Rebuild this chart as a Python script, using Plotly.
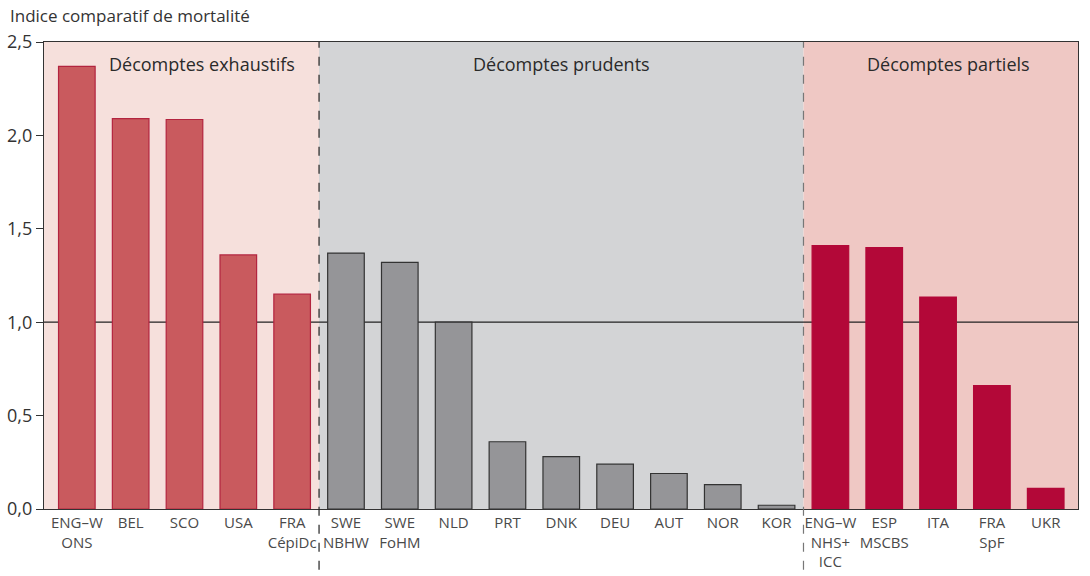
import plotly.graph_objects as go

categories = ["ENG–W<br>ONS", "BEL", "SCO", "USA", "FRA<br>CépiDc",
              "SWE<br>NBHW", "SWE<br>FoHM", "NLD", "PRT", "DNK", "DEU", "AUT", "NOR", "KOR",
              "ENG–W<br>NHS+<br>ICC", "ESP<br>MSCBS", "ITA", "FRA<br>SpF", "UKR"]
values = [2.37, 2.09, 2.085, 1.36, 1.15,
          1.37, 1.32, 1.00, 0.36, 0.28, 0.24, 0.19, 0.13, 0.02,
          1.41, 1.40, 1.135, 0.66, 0.11]
groups = ["exh"] * 5 + ["pru"] * 9 + ["par"] * 5
group_labels = ["Décomptes exhaustifs", "Décomptes prudents", "Décomptes partiels"]
y_ticks = [0, 0.5, 1.0, 1.5, 2.0, 2.5]
y_tick_labels = ["0,0", "0,5", "1,0", "1,5", "2,0", "2,5"]

fill = {"exh": "#c95a5e", "pru": "#959598", "par": "#b30838"}
edge = {"exh": "#b3243f", "pru": "#333333", "par": "#b30838"}
bg = ["#f6e0dc", "#d3d4d6", "#efc8c4"]

x = list(range(len(categories)))
fig = go.Figure()
fig.add_trace(go.Bar(
    x=x, y=values, width=0.68,
    marker=dict(color=[fill[g] for g in groups],
                line=dict(color=[edge[g] for g in groups], width=1.2)),
    hoverinfo="y", showlegend=False))

xmin, xmax = -0.61, 18.6
b1, b2 = 4.5, 13.5
shapes = [
    dict(type="rect", xref="x", yref="paper", x0=xmin, x1=b1, y0=0, y1=1,
         fillcolor=bg[0], line_width=0, layer="below"),
    dict(type="rect", xref="x", yref="paper", x0=b1, x1=b2, y0=0, y1=1,
         fillcolor=bg[1], line_width=0, layer="below"),
    dict(type="rect", xref="x", yref="paper", x0=b2, x1=xmax, y0=0, y1=1,
         fillcolor=bg[2], line_width=0, layer="below"),
    dict(type="line", xref="paper", yref="y", x0=0, x1=1, y0=1, y1=1,
         line=dict(color="#222222", width=1.2), layer="below"),
    dict(type="line", xref="x", yref="paper", x0=b1, x1=b1, y0=-0.13, y1=1,
         line=dict(color="#222222", width=1.2, dash="dash"), layer="above"),
    dict(type="line", xref="x", yref="paper", x0=b2, x1=b2, y0=-0.13, y1=1,
         line=dict(color="#777777", width=1.2, dash="dash"), layer="above"),
]

annotations = [
    dict(text="Indice comparatif de mortalité", xref="paper", yref="paper",
         x=-0.035, y=1.057, xanchor="left", yanchor="middle", showarrow=False,
         font=dict(size=17, color="#333333")),
]
for gx, gl in zip([2.33, 9.0, 16.2], group_labels):
    annotations.append(dict(text=gl, x=gx, y=2.38, xref="x", yref="y", showarrow=False,
                            xanchor="center", yanchor="middle",
                            font=dict(size=18, color="#2a2a2a")))

fig.update_layout(
    width=1090, height=576,
    margin=dict(l=44, r=12, t=42, b=67, autoexpand=False),
    paper_bgcolor="white", plot_bgcolor="white",
    font=dict(family="Open Sans", color="#333333"),
    shapes=shapes, annotations=annotations, bargap=0.3,
)
fig.update_xaxes(range=[xmin, xmax], tickmode="array", tickvals=x, ticktext=categories,
                 showline=True, linecolor="#333333", linewidth=1.2, mirror=True,
                 showgrid=False, ticks="", tickangle=0, tickfont=dict(size=15, color="#4a4a4a"),
                 zeroline=False, automargin=False)
fig.update_yaxes(range=[0, 2.5], tickmode="array", tickvals=y_ticks, ticktext=y_tick_labels,
                 showline=True, linecolor="#333333", linewidth=1.2, mirror=True,
                 showgrid=False, ticks="outside", ticklen=7, tickcolor="#333333",
                 tickfont=dict(size=18, color="#333333"), zeroline=False, automargin=False)

fig.write_html("out.html", config={"displayModeBar": False},
               post_script="document.body.style.margin='0px';document.body.style.padding='0px';")
